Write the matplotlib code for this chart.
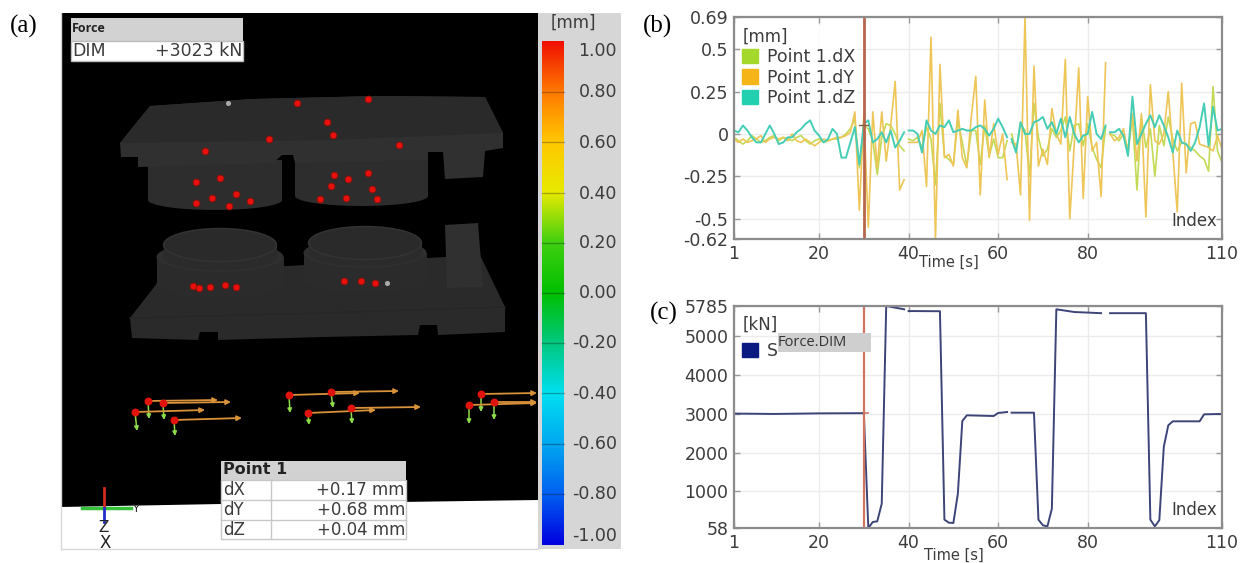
import numpy as np
import matplotlib
matplotlib.use('Agg')
import matplotlib.pyplot as plt
from matplotlib.colors import LinearSegmentedColormap
from matplotlib.patches import Ellipse, Patch, Polygon, Rectangle

WIDTH, HEIGHT = 1241, 563

# panel (b) - displacement of point 1, one value per index 1..110
index = np.arange(1, 111)
point_dx = [
    -0.02, -0.04, -0.06, -0.04, -0.01, -0.03, -0.05, -0.04, -0.02, -0.01,
    -0.04, -0.02, -0.03, -0.04, -0.02, -0.01, -0.04, -0.06, -0.04, -0.03,
    -0.05, -0.04, -0.03, -0.03, -0.02, 0.0, 0.03, 0.09, -0.2, 0.05,
    0.03, -0.04, -0.24, -0.02, 0.06, 0.05, 0.0, -0.07, -0.1, -0.03,
    -0.04, -0.02, -0.08, 0.04, -0.03, -0.3, 0.18, -0.13, -0.15, -0.18,
    0.08, -0.05, -0.19, 0.02, 0.02, -0.18, 0.05, -0.13, -0.03, -0.14,
    -0.14, -0.04, 0.0, -0.1, 0.06, 0.02, -0.25, 0.18, -0.02, -0.13,
    -0.09, 0.03, -0.02, 0.02, 0.1, -0.1, 0.05, 0.06, -0.07, 0.06,
    -0.08, -0.15, -0.2, 0.04, 0.0, -0.01, -0.04, 0.0, -0.09, 0.1,
    -0.33, 0.1, -0.08, 0.03, -0.25, 0.05, -0.07, 0.1, -0.03, -0.1,
    -0.05, -0.06, -0.08, -0.1, -0.13, -0.15, -0.22, 0.28, -0.1, -0.17,
]
point_dy = [
    -0.03, -0.05, -0.03, -0.05, -0.04, -0.03, -0.01, -0.05, -0.03, -0.02,
    -0.03, -0.02, -0.04, 0.0, -0.04, -0.05, -0.03, -0.05, -0.07, -0.05,
    -0.03, -0.04, -0.03, -0.02, -0.02, -0.01, 0.01, 0.13, -0.45, 0.12,
    -0.55, 0.13, -0.2, 0.13, -0.16, 0.05, 0.31, -0.33, -0.27, -0.05,
    -0.05, -0.05, 0.02, -0.31, 0.57, -0.62, 0.41, -0.14, -0.12, -0.19,
    0.14, -0.14, -0.2, 0.1, 0.34, -0.36, 0.2, -0.14, 0.06, -0.12,
    0.0, -0.27, -0.05, -0.06, -0.36, 0.69, -0.51, 0.4, -0.19, -0.09,
    -0.18, 0.15, 0.0, -0.06, 0.44, -0.5, -0.06, 0.39, -0.38, 0.22,
    -0.1, -0.05, -0.37, 0.42, 0.0, -0.04, -0.02, 0.03, -0.12, 0.12,
    -0.16, 0.12, -0.49, 0.29, -0.04, -0.06, 0.0, 0.25, -0.1, -0.46,
    0.3, -0.23, 0.06, 0.07, -0.06, -0.07, -0.08, -0.1, -0.01, -0.09,
]
point_dz = [
    0.02, 0.01, 0.05, 0.02, -0.02, -0.05, -0.05, 0.0, 0.05, 0.0,
    -0.06, -0.05, -0.02, -0.02, 0.01, 0.03, 0.06, 0.08, 0.02, -0.01,
    -0.05, -0.03, 0.03, 0.0, -0.14, -0.14, -0.05, 0.04, -0.18, 0.06,
    0.08, -0.05, -0.03, 0.01, -0.05, 0.02, -0.08, -0.04, 0.01, 0.02,
    0.02, 0.0, -0.11, 0.08, 0.02, 0.0, 0.05, 0.04, 0.08, 0.01,
    0.02, 0.03, 0.02, 0.02, 0.04, 0.05, 0.03, -0.01, 0.03, 0.09,
    0.04, -0.02, -0.03, -0.11, 0.07, 0.0, 0.0, 0.07, 0.08, 0.1,
    0.03, 0.07, 0.0, 0.09, -0.02, 0.1, 0.0, -0.05, -0.01, 0.0,
    0.13, 0.0, -0.03, 0.05, 0.01, 0.01, 0.03, -0.01, -0.13, 0.22,
    -0.06, 0.0, 0.06, 0.11, 0.04, 0.11, 0.05, -0.02, -0.11, 0.02,
    -0.05, -0.06, -0.1, -0.05, 0.04, 0.18, -0.07, 0.16, 0.02, 0.03,
]
displacement_breaks = [39, 62, 84]
displacement_yticks = [0.69, 0.5, 0.25, 0, -0.25, -0.5, -0.62]
displacement_ylabels = ['0.69', '0.5', '0.25', '0', '-0.25', '-0.5', '-0.62']

# panel (c) - press force
force_x = [1, 10, 20, 30, 31, 32, 33, 34, 35, 39, 40, 47, 48, 49, 50, 51, 52, 53, 59, 60, 62,
           63, 68, 69, 70, 71, 72, 73, 77, 83, 85, 93, 94, 95, 96, 97, 98, 99, 105, 106, 110]
force_y = [3010, 3000, 3015, 3020, 58, 213, 230, 686, 5785, 5700, 5655, 5650, 273, 195, 187,
           944, 2818, 2965, 2947, 3025, 3050, 3033, 3033, 273, 127, 100, 557, 5700, 5630, 5600,
           5600, 5600, 273, 100, 260, 2150, 2707, 2810, 2810, 2990, 3000]
force_breaks = [39, 62, 83]
force_yticks = [58, 1000, 2000, 3000, 4000, 5000, 5785]

time_ticks = [1, 20, 40, 60, 80, 110]
cursor_index = 30

# panel (a) - scene, in picture pixels
upper_plate = [(120, 143), (150, 106), (253, 99), (377, 96), (485, 97), (503, 133), (503, 148),
               (485, 151), (483, 177), (445, 179), (443, 152), (428, 152), (428, 160), (295, 163),
               (293, 155), (282, 155), (273, 163), (138, 167), (138, 157), (121, 157)]
upper_plate_top = [(120, 143), (150, 106), (253, 99), (377, 96), (485, 97), (503, 133),
                   (330, 140), (200, 142)]
upper_discs = [(148, 282, 160, 200), (295, 428, 160, 196)]
lower_plate = [(130, 318), (165, 273), (480, 255), (505, 307), (505, 332), (438, 335), (437, 325),
               (420, 325), (418, 335), (323, 337), (218, 340), (218, 332), (200, 332), (198, 340),
               (132, 338)]
# cx, top of the collar, bottom of the collar, collar width, top disc width
lower_discs = [(220, 257, 284, 127, 113), (365, 253, 280, 123, 113)]
lower_disc_top_y = [245, 243]
side_block = [(445, 225), (478, 223), (483, 287), (447, 288)]

marker_x = [297, 368, 327, 333, 269, 205, 399, 220, 196, 236, 212, 250, 196, 229, 334, 348, 368,
            331, 372, 320, 346, 377, 193, 199, 210, 225, 236, 344, 361, 375]
marker_y = [103, 99, 122, 135, 139, 151, 145, 178, 182, 194, 198, 201, 203, 206, 175, 179, 173,
            186, 189, 199, 198, 199, 286, 288, 287, 285, 287, 281, 281, 283]

vector_x = [148, 163, 135, 174, 289, 331, 308, 351, 481, 469, 494]
vector_y = [401, 403, 412, 420, 395, 392, 413, 408, 394, 405, 402]
vector_dy_end_x = [218, 231, 205, 242, 360, 399, 376, 421, 537, 537, 537]
vector_dy_end_y = [400, 402, 410, 418, 393, 391, 410, 407, 393, 403, 402]
vector_dz_end_x = [149, 164, 137, 175, 290, 333, 309, 352, 481, 469, 494]
vector_dz_end_y = [419, 420, 431, 436, 413, 408, 425, 424, 412, 424, 420]

scale_values = [-1.0, -0.8, -0.6, -0.4, -0.2, 0.0, 0.2, 0.4, 0.6, 0.8, 1.0]
scale_colors = ['#0000e0', '#0060f0', '#00a8f0', '#00e0f0', '#00c880', '#00c000', '#40d010',
                '#e8ea00', '#ffc800', '#ff7a00', '#f01000']
scale_label_y = [536, 494, 444, 394, 343, 293, 243, 194, 143, 92, 51]

force_table = [('DIM', '+3023 kN')]
point_table = [('dX', '+0.17 mm'), ('dY', '+0.68 mm'), ('dZ', '+0.04 mm')]

TEXT = '#3c3c3c'
plt.rcParams['font.family'] = ['DejaVu Sans']

fig = plt.figure(figsize=(WIDTH / 100, HEIGHT / 100), dpi=100, facecolor='white')

# whole figure axes in picture pixels for panel (a)
scene = fig.add_axes([0, 0, 1, 1])
scene.set_xlim(0, WIDTH)
scene.set_ylim(HEIGHT, 0)
scene.axis('off')

scene.add_patch(Rectangle((61, 13), 477, 536, fc='black', ec='none'))
scene.add_patch(Polygon([(61, 507), (221, 504), (400, 502), (538, 500), (538, 549), (61, 549)],
                        fc='white', ec='none'))
scene.add_patch(Rectangle((538, 13), 83, 536, fc='#d6d6d6', ec='none'))
scene.plot([61, 61], [13, 549], color='#d8d8d8', lw=1)
scene.plot([61, 538], [549, 549], color='#d8d8d8', lw=1)

# upper tool
for left, right, top, bottom in upper_discs:
    scene.add_patch(Rectangle((left, top), right - left, bottom - top, fc='#2d2d2d', ec='none'))
    scene.add_patch(Ellipse(((left + right) / 2, bottom), right - left, 20, fc='#2d2d2d', ec='none'))
scene.add_patch(Polygon(upper_plate, fc='#303030', ec='none'))
scene.add_patch(Polygon(upper_plate_top, fc='#2a2a2a', ec='none'))

# lower tool
scene.add_patch(Polygon(lower_plate, fc='#2a2a2a', ec='none'))
scene.plot([130, 320, 505], [318, 313, 307], color='#262626', lw=1)
for (cx, collar_top, collar_bottom, collar_w, top_w), top_y in zip(lower_discs, lower_disc_top_y):
    scene.add_patch(Ellipse((cx, collar_bottom), collar_w, 28, fc='#2b2b2b', ec='none'))
    scene.add_patch(Rectangle((cx - collar_w / 2, collar_top), collar_w, collar_bottom - collar_top,
                              fc='#2b2b2b', ec='none'))
    scene.add_patch(Ellipse((cx, collar_top), collar_w, 30, fc='#2f2f2f', ec='none'))
    scene.add_patch(Rectangle((cx - top_w / 2, top_y), top_w, collar_top - top_y, fc='#2b2b2b', ec='none'))
    scene.add_patch(Ellipse((cx, collar_top), top_w, 26, fc='#2b2b2b', ec='none'))
    scene.add_patch(Ellipse((cx, top_y), top_w, 33, fc='#2a2a2a', ec='#343434', lw=1))
scene.add_patch(Polygon(side_block, fc='#303030', ec='none'))

scene.scatter(marker_x, marker_y, s=24, color='#e8100c', edgecolors='#8a1008', linewidths=0.6, zorder=4)
scene.scatter([228, 387], [103, 283], s=7, color='#aaaaaa', zorder=4)

# deviation vectors
for x0, y0, x1, y1, x2, y2 in zip(vector_x, vector_y, vector_dy_end_x, vector_dy_end_y,
                                  vector_dz_end_x, vector_dz_end_y):
    scene.annotate('', xy=(x1, y1), xytext=(x0, y0),
                   arrowprops=dict(arrowstyle='-|>', color='#d8923a', lw=1.3, mutation_scale=7,
                                   shrinkA=0, shrinkB=0))
    scene.annotate('', xy=(x2, y2), xytext=(x0, y0),
                   arrowprops=dict(arrowstyle='-|>', color='#8fdc4a', lw=1.1, mutation_scale=6,
                                   shrinkA=0, shrinkB=0))
scene.scatter(vector_x, vector_y, s=22, color='#e0140c', zorder=5)

# colour scale
cmap = LinearSegmentedColormap.from_list('deviation', scale_colors)
gradient = np.linspace(1, -1, 256).reshape(-1, 1)
scene.imshow(gradient, extent=(542, 564, 545, 41), aspect='auto', cmap=cmap, vmin=-1, vmax=1, zorder=3)
scene.set_xlim(0, WIDTH)
scene.set_ylim(HEIGHT, 0)
for value, label_y in zip(scale_values, scale_label_y):
    if abs(value) < 1:
        line_y = 293 - value * 251
        scene.plot([542, 564], [line_y, line_y], color='black', alpha=0.28, lw=1, zorder=4)
    scene.text(617, label_y, f'{value:.2f}', ha='right', va='center', fontsize=12.5, color=TEXT)
scene.text(573, 23, '[mm]', ha='center', va='center', fontsize=12, color=TEXT)

# info tables
scene.add_patch(Rectangle((71, 18), 172, 23, fc='#d2d2d2', ec='none'))
scene.add_patch(Rectangle((71, 41), 172, 20, fc='white', ec='#bdbdbd', lw=1))
scene.text(72, 29, 'Force', ha='left', va='center', fontsize=9, weight='bold', color='#222222',
           family='Open Sans')
scene.text(72, 51, force_table[0][0], ha='left', va='center', fontsize=12.5, color=TEXT)
scene.text(242, 51, force_table[0][1], ha='right', va='center', fontsize=12.5, color=TEXT)

scene.add_patch(Rectangle((221, 461), 185, 19, fc='#d2d2d2', ec='none'))
scene.add_patch(Rectangle((221, 480), 185, 59, fc='white', ec='#c8c8c8', lw=1))
scene.plot([271, 271], [480, 539], color='#c8c8c8', lw=1)
scene.text(223, 470, 'Point 1', ha='left', va='center', fontsize=11.5, weight='bold', color='#222222')
for row, (name, reading) in enumerate(point_table):
    row_y = 490 + row * 20
    if row:
        scene.plot([221, 406], [row_y - 10, row_y - 10], color='#c8c8c8', lw=1)
    scene.text(223, row_y, name, ha='left', va='center', fontsize=12, color=TEXT)
    scene.text(405, row_y, reading, ha='right', va='center', fontsize=12, color=TEXT)

# coordinate triad
scene.plot([82, 131], [508, 508], color='#35c23a', lw=2.5)
scene.plot([104, 104], [488, 508], color='#d42a20', lw=2)
scene.plot([104, 104], [508, 522], color='#2030c8', lw=2)
scene.text(136, 509, 'Y', ha='center', va='center', fontsize=8, color='#222222')
scene.text(104, 528, 'Z', ha='center', va='center', fontsize=11, color='#222222')
scene.text(105, 543, 'X', ha='center', va='center', fontsize=12, color='#222222')

# panel letters
for letter, x, y in [('(a)', 10, 26), ('(b)', 643, 26), ('(c)', 650, 313)]:
    scene.text(x, y, letter, ha='left', va='center', fontsize=18, color='black',
               family='Liberation Serif')


def pixel_axes(left, right, top, bottom):
    ax = fig.add_axes([left / WIDTH, 1 - bottom / HEIGHT, (right - left) / WIDTH, (bottom - top) / HEIGHT])
    ax.set_xlim(1, 110)
    ax.set_xticks(time_ticks)
    ax.grid(True, color='#ececec', lw=1)
    ax.set_axisbelow(True)
    for spine in ax.spines.values():
        spine.set_color('#8c8c8c')
        spine.set_linewidth(1.6)
    ax.tick_params(direction='in', length=4, width=1, color='#9a9a9a', top=True, right=True,
                   labelsize=12.5, labelcolor=TEXT, pad=4)
    return ax


def with_breaks(x, y, breaks):
    # a nan after the given index leaves a hole in the line
    x = np.asarray(x, dtype=float)
    y = np.asarray(y, dtype=float)
    spots = np.searchsorted(x, breaks, side='right')
    return np.insert(x, spots, np.nan), np.insert(y, spots, np.nan)


# panel (b)
ax_b = pixel_axes(734, 1222, 17, 239)
ax_b.set_ylim(-0.62, 0.69)
ax_b.set_yticks(displacement_yticks, displacement_ylabels)
series = [(point_dx, '#c3da55', 'Point 1.dX', '#a4d82a', 1.2),
          (point_dy, '#eec557', 'Point 1.dY', '#f5b418', 1.2),
          (point_dz, '#45cdb6', 'Point 1.dZ', '#22d0b0', 1.4)]
for values, color, _, _, width in series:
    ax_b.plot(*with_breaks(index, values, displacement_breaks), color=color, lw=width)
ax_b.axvline(cursor_index, color='#b8664c', lw=2)
ax_b.plot([cursor_index - 1, cursor_index + 1], [0.05, 0.05], color='#8a5a40', lw=1)
handles = [Patch(color=swatch, label=label) for _, _, label, swatch, _ in series]
legend_b = ax_b.legend(handles=handles, title='[mm]', loc='upper left', bbox_to_anchor=(0.012, 0.965),
                       fontsize=12.5, title_fontsize=12, alignment='left', handlelength=0.9,
                       handleheight=0.9, handletextpad=0.5, labelspacing=0.15, borderpad=0.15,
                       borderaxespad=0, framealpha=0.8, edgecolor='none', facecolor='white',
                       labelcolor=TEXT)
legend_b.get_title().set_color(TEXT)
ax_b.text(0.99, 0.08, 'Index', transform=ax_b.transAxes, ha='right', va='center', fontsize=12, color=TEXT)
ax_b.text(0.44, -0.105, 'Time [s]', transform=ax_b.transAxes, ha='center', va='center', fontsize=10.5,
          color=TEXT)

# panel (c)
ax_c = pixel_axes(734, 1222, 306, 528)
ax_c.set_ylim(58, 5785)
ax_c.set_yticks(force_yticks)
ax_c.plot(*with_breaks(force_x, force_y, force_breaks), color='#3c4478', lw=1.4)
ax_c.axvline(cursor_index, color='#cf7560', lw=1.6)
ax_c.plot([cursor_index, cursor_index + 1], [3020, 3020], color='#cf7560', lw=1.2)
legend_c = ax_c.legend(handles=[Patch(color='#0a1a80', label='S')], title='[kN]', loc='upper left',
                       bbox_to_anchor=(0.012, 0.97), fontsize=12.5, title_fontsize=12, alignment='left',
                       handlelength=0.9, handleheight=0.9, handletextpad=0.5, borderpad=0.15,
                       borderaxespad=0, frameon=False, labelcolor=TEXT)
legend_c.get_title().set_color(TEXT)
ax_c.add_patch(Rectangle((778, 563 - 352), 93, 19, transform=None, fc='#cfcfcf', ec='none', zorder=6))
ax_c.text(778, 563 - 342.5, 'Force.DIM', transform=None, ha='left', va='center', fontsize=10.5,
          weight='medium', color='#333333', zorder=7, family='Open Sans')
ax_c.text(0.99, 0.08, 'Index', transform=ax_c.transAxes, ha='right', va='center', fontsize=12, color=TEXT)
ax_c.text(0.45, -0.125, 'Time [s]', transform=ax_c.transAxes, ha='center', va='center', fontsize=10.5,
          color=TEXT)

fig.savefig('out.png', dpi=100)
